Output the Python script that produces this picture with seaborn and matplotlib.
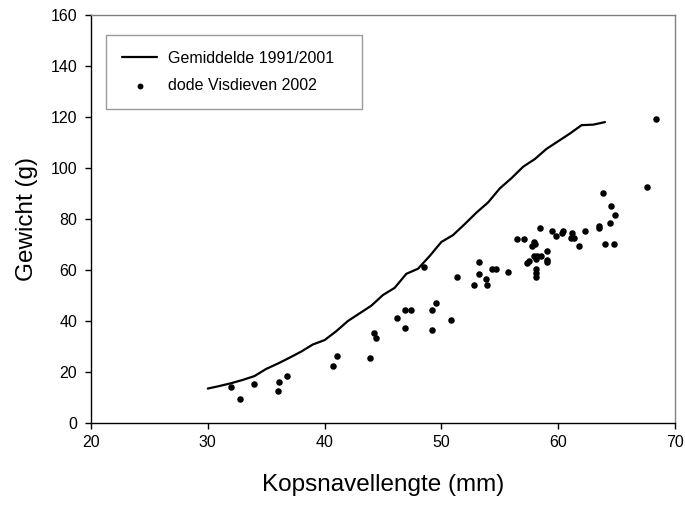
import matplotlib
matplotlib.use("Agg")
import matplotlib.pyplot as plt
import seaborn as sns
import pandas as pd

# Mean weight per head-bill length, 1991/2001
mean_length = [30, 31, 32, 33, 34, 35, 36, 37, 38, 39, 40, 41, 42, 43, 44, 45, 46,
               47, 48, 49, 50, 51, 52, 53, 54, 55, 56, 57, 58, 59, 60, 61, 62, 63, 64]
mean_weight = [13.5, 14.5, 15.6, 16.9, 18.4, 21.2, 23.3, 25.6, 28.0, 30.8, 32.5, 36.0,
               40.0, 43.0, 46.0, 50.2, 53.0, 58.5, 60.5, 65.5, 71.0, 73.7, 78.0, 82.5,
               86.5, 92.0, 96.0, 100.5, 103.5, 107.5, 110.5, 113.5, 116.8, 117.0, 118.0]

# Dead terns found in 2002
dead_length = [32.0, 32.8, 34.0, 36.0, 36.1, 36.8, 40.7, 41.1, 43.9, 44.2, 44.4, 46.2,
               46.9, 46.9, 47.4, 48.5, 49.2, 49.2, 49.5, 50.8, 51.3, 52.8, 53.2, 53.2,
               53.8, 53.9, 54.3, 54.7, 55.7, 56.5, 57.1, 57.35, 57.5, 57.8, 57.9, 58.0,
               57.9, 58.15, 58.5, 58.1, 58.1, 58.1, 58.1, 58.4, 59.0, 59.0, 59.0, 59.5,
               59.8, 60.3, 60.4, 61.15, 61.1, 61.35, 61.8, 62.3, 63.5, 63.5, 63.8, 64.0,
               64.4, 64.5, 64.8, 64.9, 67.6, 68.4]
dead_weight = [14.2, 9.4, 15.3, 12.4, 16.2, 18.4, 22.4, 26.4, 25.4, 35.4, 33.3, 41.3,
               37.4, 44.4, 44.4, 61.3, 36.3, 44.3, 47.2, 40.3, 57.4, 54.2, 63.3, 58.3,
               56.3, 54.2, 60.3, 60.3, 59.3, 72.3, 72.3, 62.6, 63.4, 69.4, 71.1, 70.2,
               65.5, 65.5, 65.5, 64.4, 60.3, 58.7, 57.4, 76.5, 67.3, 63.9, 63.1, 75.4,
               73.3, 74.6, 75.4, 74.4, 72.4, 72.4, 69.4, 75.4, 77.3, 76.5, 90.3, 70.3,
               78.3, 85.2, 70.3, 81.4, 92.4, 119.3]

x_ticks = [20, 30, 40, 50, 60, 70]
y_ticks = [0, 20, 40, 60, 80, 100, 120, 140, 160]

sns.set_style("ticks", {"text.color": "black", "axes.labelcolor": "black",
                        "xtick.color": "black", "ytick.color": "black"})
plt.rcParams["font.family"] = ["Liberation Sans", "DejaVu Sans"]

fig = plt.figure(figsize=(6.85, 5.07), dpi=100)
ax = fig.add_axes([0.1328, 0.1657, 0.8526, 0.8047])

mean_df = pd.DataFrame({"len": mean_length, "w": mean_weight})
dead_df = pd.DataFrame({"len": dead_length, "w": dead_weight})

sns.lineplot(data=mean_df, x="len", y="w", ax=ax, color="black", linewidth=1.6,
             label="Gemiddelde 1991/2001")
sns.scatterplot(data=dead_df, x="len", y="w", ax=ax, color="black", s=22,
                edgecolor="black", linewidth=0, label="dode Visdieven 2002")

ax.set_xlim(20, 70)
ax.set_ylim(0, 160)
ax.set_xticks(x_ticks)
ax.set_yticks(y_ticks)
ax.tick_params(axis="both", direction="out", length=4.5, width=1, labelsize=11.5,
               colors="black", labelcolor="black")
ax.tick_params(axis="y", pad=5.5)
ax.tick_params(axis="x", pad=4.5)

for side in ("left", "bottom"):
    ax.spines[side].set_color("black")
    ax.spines[side].set_linewidth(1)
for side in ("top", "right"):
    ax.spines[side].set_visible(True)
    ax.spines[side].set_color("#808080")
    ax.spines[side].set_linewidth(1)

ax.set_xlabel("Kopsnavellengte (mm)", fontsize=17.5, labelpad=17, color="black")
ax.set_ylabel("Gewicht (g)", fontsize=17.5, labelpad=9, color="black")

leg = ax.legend(loc="upper left", bbox_to_anchor=(0.0257, 0.5, 0.438, 0.451),
                mode="expand", borderaxespad=0,
                fontsize=11.5, frameon=True, fancybox=False, edgecolor="#808080",
                handlelength=2.2, handletextpad=0.7, borderpad=1.0,
                labelspacing=0.75, markerscale=0.9)
leg.get_frame().set_linewidth(1)
for t in leg.get_texts():
    t.set_color("black")

fig.savefig("out.png", dpi=100)
